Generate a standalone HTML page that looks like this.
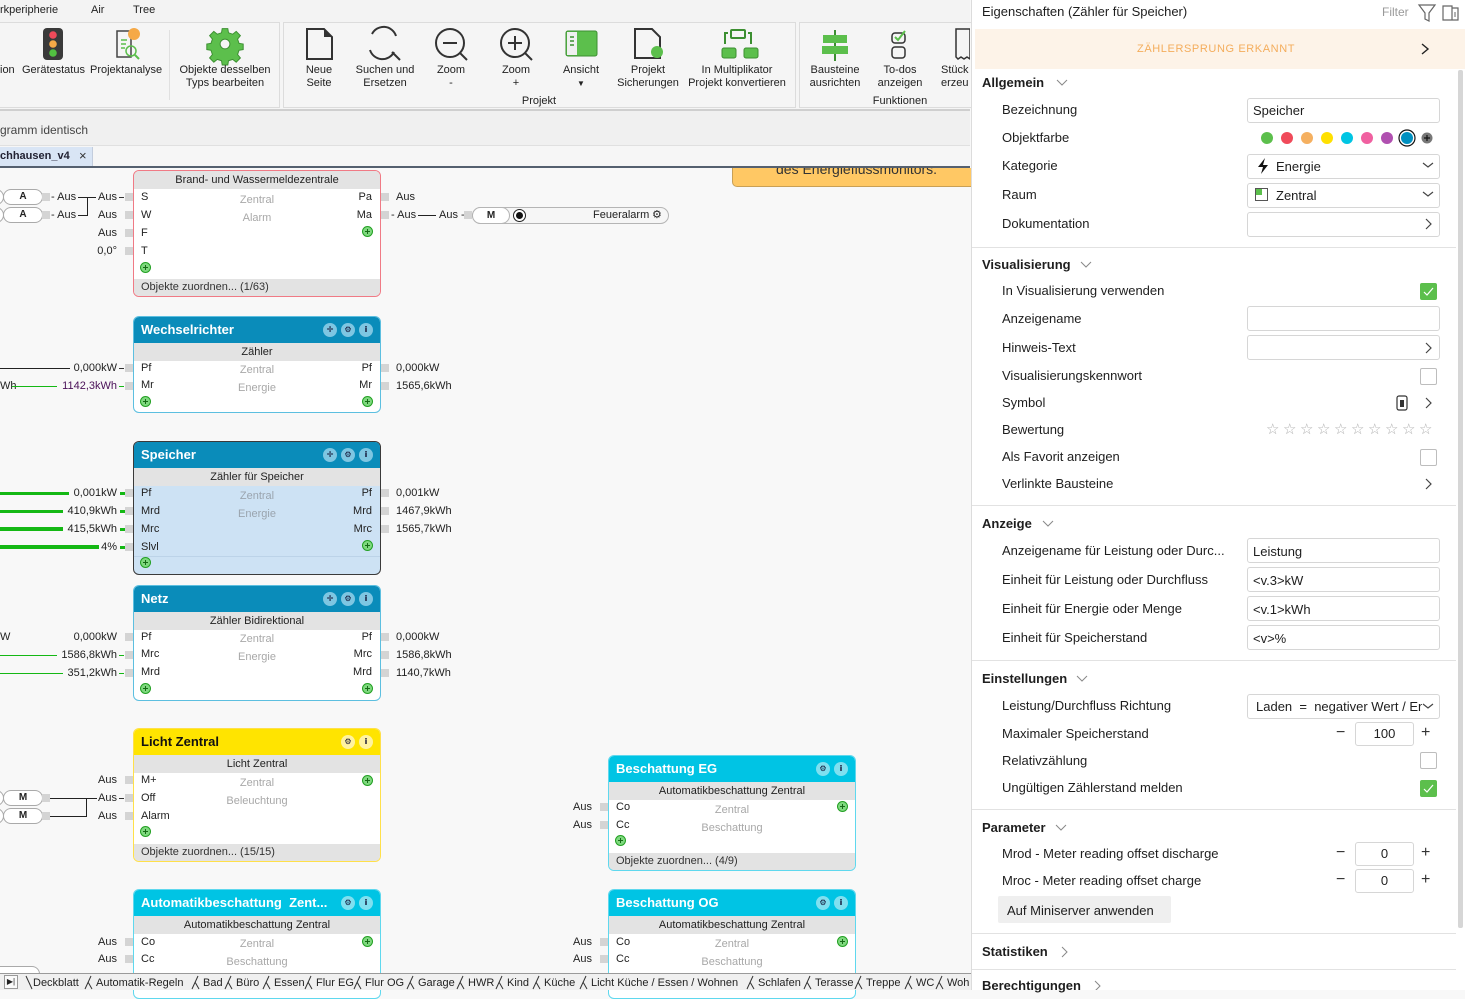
<!DOCTYPE html>
<html><head><meta charset="utf-8">
<style>
*{box-sizing:border-box}
body{margin:0;width:1465px;height:990px;position:relative;overflow:hidden;font-family:"Liberation Sans",sans-serif;background:#f8f8f8;color:#222}
.a{position:absolute;white-space:nowrap}
.s{font-size:11px;line-height:14px}
.blk{position:absolute;width:248px;border:1px solid;border-radius:6px;overflow:hidden;background:#fff}
.hd{position:absolute;left:0;top:0;right:0;height:26px;font-weight:bold;font-size:13px;line-height:26px;padding-left:7px;color:#fff}
.sub{position:absolute;left:0;right:0;height:18px;background:#e3e3e3;font-size:11px;line-height:18px;text-align:center;color:#222}
.ft{position:absolute;left:0;right:0;bottom:0;height:17px;background:#e3e3e3;font-size:11px;line-height:17px;padding-left:7px;color:#333}
.ic{position:absolute;top:6px;width:14px;height:14px;border-radius:50%;font-size:8px;line-height:14px;text-align:center;color:#113;font-weight:bold;font-family:"DejaVu Sans",sans-serif}
.pl{position:absolute;width:11px;height:11px;border-radius:50%;background:#7ed87e;border:1px solid #22a022}
.pl:before{content:"";position:absolute;left:2px;top:4px;width:5px;height:1px;background:#156a15}
.pl:after{content:"";position:absolute;left:4px;top:2px;width:1px;height:5px;background:#156a15}
.sq{position:absolute;width:8px;height:8px;background:#d4d4d4}
.g{color:#a8a8a8;left:0;width:246px;text-align:center}
.ln{position:absolute;background:#222}
.gl{position:absolute;background:#14b814}
.rl{position:absolute;width:117px;text-align:right;left:0}
.dsh{position:absolute;left:119px;width:5px;height:1px;background:#333}
.rp{font-size:13px;line-height:16px;color:#1e1e1e}
.b{font-weight:bold}
.inp{position:absolute;left:1247px;width:193px;height:25px;border:1px solid #d6d6d6;border-radius:3px;background:#fff}
.sep{position:absolute;left:972px;width:484px;height:1px;background:#e2e2e2}
.cb{position:absolute;left:1420px;width:17px;height:17px;border:1px solid #bdbdbd;border-radius:2px;background:#fff}
.cbg{background:#5cbf4c;border-color:#5cbf4c}
.rb{font-size:11px;line-height:13px;text-align:center;color:#222}
</style></head><body>

<!-- top menu -->
<div class="a" style="left:0;top:0;width:970px;height:22px;background:#f3f3f3"></div>
<div class="a s" style="left:0;top:3px">rkperipherie</div>
<div class="a s" style="left:91px;top:3px">Air</div>
<div class="a s" style="left:133px;top:3px">Tree</div>

<!-- ribbon -->
<div class="a" style="left:0;top:22px;width:970px;height:88px;background:#f5f5f5"></div>
<div class="a" style="left:-2px;top:22px;width:282px;height:86px;border:1px solid #dcdcdc"></div>
<div class="a" style="left:283px;top:22px;width:513px;height:86px;border:1px solid #dcdcdc"></div>
<div class="a" style="left:799px;top:22px;width:180px;height:86px;border:1px solid #dcdcdc"></div>
<div class="a" style="left:169px;top:30px;width:1px;height:70px;background:#e0e0e0"></div>
<div class="a" style="left:0;top:109px;width:970px;height:2px;background:#cfcfcf"></div>

<svg class="a" style="left:0;top:0" width="970" height="110">
 <rect x="43" y="28" width="20" height="32" rx="4" fill="#3a3a3a"/>
 <circle cx="53" cy="35" r="3.8" fill="#f04a5a"/><circle cx="53" cy="44" r="3.8" fill="#f5a947"/><circle cx="53" cy="53" r="3.8" fill="#52c041"/>
 <path d="M117 31h14v26h-14z" fill="none" stroke="#444" stroke-width="1.5"/>
 <path d="M121 40h6M121 44h5M121 48h4" stroke="#5cbf4c" stroke-width="1.5"/>
 <circle cx="131" cy="51" r="5" fill="none" stroke="#5cbf4c" stroke-width="1.5"/><path d="M135 55l4 4" stroke="#5cbf4c" stroke-width="2"/>
 <circle cx="134" cy="34" r="6" fill="#f5a947"/>
 <g transform="translate(225 44) scale(0.7)"><path d="M-4-22h8l1 6 6 2 5-4 6 6-4 5 2 6 6 1v8l-6 1-2 6 4 5-6 6-5-4-6 2-1 6h-8l-1-6-6-2-5 4-6-6 4-5-2-6-6-1v-8l6-1 2-6-4-5 6-6 5 4 6-2z" fill="#5cbf4c" stroke="#3c8f31" stroke-width="1.4"/><circle r="7" fill="#f5f5f5" stroke="#3c8f31" stroke-width="1.4"/></g>
 <path d="M307 29h17l8 8v22h-25z" fill="none" stroke="#333" stroke-width="2"/><path d="M324 29v8h8" fill="#333"/>
 <path d="M396 36a13 13 0 0 0-24-2M370 50a13 13 0 0 0 24 2" fill="none" stroke="#333" stroke-width="2"/><path d="M392 52l8 8" stroke="#333" stroke-width="2"/>
 <circle cx="450" cy="43" r="14" fill="none" stroke="#333" stroke-width="2"/><path d="M443 43h14M460 53l7 7" stroke="#333" stroke-width="2"/>
 <circle cx="515" cy="43" r="14" fill="none" stroke="#333" stroke-width="2"/><path d="M508 43h14M515 36v14M525 53l7 7" stroke="#333" stroke-width="2"/>
 <rect x="566" y="31" width="31" height="25" rx="2" fill="#5cbf4c" stroke="#3c8f31"/><rect x="567" y="32" width="10" height="23" fill="#f0f0f0"/>
 <path d="M570 37h4M570 41h4M570 45h4" stroke="#3c8f31" stroke-width="1.5"/>
 <path d="M635 29h17l8 8v21h-25z" fill="none" stroke="#333" stroke-width="2"/><circle cx="657" cy="52" r="6" fill="#5cbf4c"/>
 <rect x="731" y="30" width="14" height="8" rx="1" fill="none" stroke="#3c8f31" stroke-width="2"/>
 <path d="M725 44v-11h3M751 44v-11h-3" fill="none" stroke="#3c8f31" stroke-width="2"/>
 <rect x="722" y="48" width="14" height="10" rx="2" fill="#5cbf4c" stroke="#3c8f31"/><rect x="744" y="48" width="14" height="10" rx="2" fill="#5cbf4c" stroke="#3c8f31"/>
 <path d="M835 30v31" stroke="#3c8f31" stroke-width="2"/><rect x="823" y="35" width="24" height="8" fill="#5cbf4c"/><rect x="822" y="46" width="26" height="8" fill="#5cbf4c"/>
 <rect x="892" y="33" width="13" height="10" rx="3" fill="none" stroke="#333" stroke-width="1.5"/><rect x="892" y="47" width="13" height="11" rx="3" fill="none" stroke="#333" stroke-width="1.5"/>
 <path d="M895 37l3 3 7-9" fill="none" stroke="#5cbf4c" stroke-width="2"/>
 <path d="M956 29h14v30l-3-2-3 2-3-2-3 2-2-2z" fill="none" stroke="#333" stroke-width="1.5"/>
</svg>

<div class="a rb" style="left:0;top:64px">ion</div>
<div class="a rb" style="left:22px;top:64px">Gerätestatus</div>
<div class="a rb" style="left:90px;top:64px">Projektanalyse</div>
<div class="a rb" style="left:165px;top:64px;width:120px">Objekte desselben<br>Typs bearbeiten</div>
<div class="a rb" style="left:299px;top:64px;width:40px">Neue<br>Seite</div>
<div class="a rb" style="left:345px;top:64px;width:80px">Suchen und<br>Ersetzen</div>
<div class="a rb" style="left:421px;top:64px;width:60px">Zoom<br>-</div>
<div class="a rb" style="left:486px;top:64px;width:60px">Zoom<br>+</div>
<div class="a rb" style="left:551px;top:64px;width:60px">Ansicht<br><span style="font-size:8px">▼</span></div>
<div class="a rb" style="left:608px;top:64px;width:80px">Projekt<br>Sicherungen</div>
<div class="a rb" style="left:682px;top:64px;width:110px">In Multiplikator<br>Projekt konvertieren</div>
<div class="a rb" style="left:800px;top:64px;width:70px">Bausteine<br>ausrichten</div>
<div class="a rb" style="left:870px;top:64px;width:60px">To-dos<br>anzeigen</div>
<div class="a rb" style="left:941px;top:64px;text-align:left">Stück<br>erzeu</div>
<div class="a rb" style="left:509px;top:95px;width:60px">Projekt</div>
<div class="a rb" style="left:860px;top:95px;width:80px">Funktionen</div>

<!-- strip -->
<div class="a" style="left:0;top:111px;width:970px;height:34px;background:#f0f0f0"></div>
<div class="a" style="left:0;top:122px;font-size:12px;line-height:16px;color:#444">gramm identisch</div>
<div class="a" style="left:0;top:145px;width:970px;height:1px;background:#e0e0e0"></div>
<div class="a" style="left:0;top:146px;width:970px;height:20px;background:#f6f6f6"></div>
<div class="a" style="left:0;top:147px;width:93px;height:19px;background:#d9e5f5;border-right:1px solid #c3cddd"></div>
<div class="a s b" style="left:0;top:149px;font-size:11px;color:#223">chhausen_v4</div>
<div class="a" style="left:79px;top:148px;font-size:13px;line-height:16px;color:#333">×</div>
<div class="a" style="left:0;top:166px;width:970px;height:2px;background:#55606f"></div>

<!-- note -->
<div class="a" style="left:732px;top:168px;width:240px;height:19px;overflow:hidden;background:#ffc864;border:1px solid #c9a055;border-top:none;border-bottom-left-radius:5px">
 <div class="a" style="left:43px;top:-7px;font-size:14px;line-height:16px;color:#333">des Energieflussmonitors.</div>
</div>

<!-- LEFT WIRING -->
<div class="a" style="left:-12px;top:189px;width:16px;height:16px;border:1px solid #aaa;border-radius:8px;background:#fff"></div>
<div class="a" style="left:-12px;top:207px;width:16px;height:16px;border:1px solid #aaa;border-radius:8px;background:#fff"></div>
<div class="a" style="left:3px;top:189px;width:40px;height:16px;border:1px solid #aaa;border-radius:8px;background:#fff;font-size:10px;line-height:14px;text-align:center;font-weight:bold">A</div>
<div class="a" style="left:3px;top:207px;width:40px;height:16px;border:1px solid #aaa;border-radius:8px;background:#fff;font-size:10px;line-height:14px;text-align:center;font-weight:bold">A</div>
<div class="sq" style="left:42px;top:193px"></div><div class="sq" style="left:42px;top:211px"></div>
<div class="a s" style="left:51px;top:190px">- Aus</div>
<div class="a s" style="left:51px;top:208px">- Aus</div>
<div class="ln" style="left:78px;top:197px;width:18px;height:1px"></div>
<div class="ln" style="left:87px;top:197px;width:1px;height:18px"></div>
<div class="ln" style="left:78px;top:215px;width:10px;height:1px"></div>
<div class="a s rl" style="top:190px">Aus</div><div class="dsh" style="top:197px"></div>
<div class="a s rl" style="top:208px">Aus</div>
<div class="a s rl" style="top:226px">Aus</div>
<div class="a s rl" style="top:244px">0,0°</div>
<div class="sq" style="left:125px;top:193px"></div><div class="sq" style="left:125px;top:211px"></div><div class="sq" style="left:125px;top:229px"></div><div class="sq" style="left:125px;top:247px"></div>

<!-- Wechselrichter wiring -->
<div class="ln" style="left:0;top:368px;width:70px;height:1px"></div>
<div class="a s rl" style="top:361px">0,000kW</div><div class="dsh" style="top:368px"></div>
<div class="a s" style="left:0;top:379px">Wh</div>
<div class="gl" style="left:12px;top:386px;width:45px;height:1px"></div>
<div class="a s rl" style="top:379px;color:#4a1058">1142,3kWh</div><div class="dsh" style="top:386px;background:#14b814"></div>
<div class="sq" style="left:125px;top:364px"></div><div class="sq" style="left:125px;top:382px"></div>
<div class="sq" style="left:381px;top:364px"></div><div class="sq" style="left:381px;top:382px"></div>
<div class="a s" style="left:396px;top:361px">0,000kW</div>
<div class="a s" style="left:396px;top:379px">1565,6kWh</div>

<!-- Speicher wiring -->
<div class="gl" style="left:0;top:492px;width:69px;height:3px"></div>
<div class="gl" style="left:0;top:510px;width:63px;height:3px"></div>
<div class="gl" style="left:0;top:527px;width:63px;height:4px"></div>
<div class="gl" style="left:0;top:545px;width:99px;height:4px"></div>
<div class="a s rl" style="top:486px">0,001kW</div>
<div class="a s rl" style="top:504px">410,9kWh</div>
<div class="a s rl" style="top:522px">415,5kWh</div>
<div class="a s rl" style="top:540px">4%</div>
<div class="gl" style="left:120px;top:492px;width:5px;height:3px"></div>
<div class="gl" style="left:120px;top:510px;width:5px;height:3px"></div>
<div class="gl" style="left:120px;top:528px;width:5px;height:3px"></div>
<div class="gl" style="left:120px;top:546px;width:5px;height:3px"></div>
<div class="sq" style="left:125px;top:489px"></div><div class="sq" style="left:125px;top:507px"></div><div class="sq" style="left:125px;top:525px"></div><div class="sq" style="left:125px;top:543px"></div>
<div class="sq" style="left:381px;top:489px"></div><div class="sq" style="left:381px;top:507px"></div><div class="sq" style="left:381px;top:525px"></div>
<div class="a s" style="left:396px;top:486px">0,001kW</div>
<div class="a s" style="left:396px;top:504px">1467,9kWh</div>
<div class="a s" style="left:396px;top:522px">1565,7kWh</div>

<!-- Netz wiring -->
<div class="a s" style="left:0;top:630px">W</div>
<div class="a s rl" style="top:630px">0,000kW</div>
<div class="gl" style="left:0;top:655px;width:57px;height:1px"></div>
<div class="gl" style="left:0;top:673px;width:63px;height:1px"></div>
<div class="a s rl" style="top:648px">1586,8kWh</div><div class="dsh" style="top:655px;background:#14b814"></div>
<div class="a s rl" style="top:666px">351,2kWh</div><div class="dsh" style="top:673px;background:#14b814"></div>
<div class="sq" style="left:125px;top:633px"></div><div class="sq" style="left:125px;top:651px"></div><div class="sq" style="left:125px;top:669px"></div>
<div class="sq" style="left:381px;top:633px"></div><div class="sq" style="left:381px;top:651px"></div><div class="sq" style="left:381px;top:669px"></div>
<div class="a s" style="left:396px;top:630px">0,000kW</div>
<div class="a s" style="left:396px;top:648px">1586,8kWh</div>
<div class="a s" style="left:396px;top:666px">1140,7kWh</div>

<!-- Licht wiring -->
<div class="a" style="left:-12px;top:790px;width:16px;height:16px;border:1px solid #aaa;border-radius:8px;background:#fff"></div>
<div class="a" style="left:-12px;top:808px;width:16px;height:16px;border:1px solid #aaa;border-radius:8px;background:#fff"></div>
<div class="a" style="left:3px;top:790px;width:40px;height:16px;border:1px solid #aaa;border-radius:8px;background:#fff;font-size:10px;line-height:14px;text-align:center;font-weight:bold">M</div>
<div class="a" style="left:3px;top:808px;width:40px;height:16px;border:1px solid #aaa;border-radius:8px;background:#fff;font-size:10px;line-height:14px;text-align:center;font-weight:bold">M</div>
<div class="sq" style="left:42px;top:794px"></div><div class="sq" style="left:42px;top:812px"></div>
<div class="ln" style="left:50px;top:798px;width:47px;height:1px"></div>
<div class="ln" style="left:50px;top:816px;width:37px;height:1px"></div>
<div class="ln" style="left:86px;top:798px;width:1px;height:18px"></div>
<div class="a s rl" style="top:773px">Aus</div>
<div class="a s rl" style="top:791px">Aus</div><div class="dsh" style="top:798px"></div>
<div class="a s rl" style="top:809px">Aus</div>
<div class="sq" style="left:125px;top:776px"></div><div class="sq" style="left:125px;top:794px"></div><div class="sq" style="left:125px;top:812px"></div>

<!-- Auto wiring -->
<div class="a s rl" style="top:935px">Aus</div>
<div class="a s rl" style="top:952px">Aus</div>
<div class="sq" style="left:125px;top:938px"></div><div class="sq" style="left:125px;top:955px"></div>
<div class="a" style="left:-10px;top:966px;width:50px;height:16px;border:1px solid #aaa;border-radius:8px;background:#fff"></div>

<!-- Brand right wiring -->
<div class="sq" style="left:381px;top:193px"></div><div class="sq" style="left:381px;top:211px"></div>
<div class="a s" style="left:396px;top:190px">Aus</div>
<div class="a s" style="left:391px;top:208px">- Aus</div>
<div class="ln" style="left:418px;top:215px;width:18px;height:1px"></div>
<div class="a s" style="left:439px;top:208px">Aus -</div>
<div class="sq" style="left:464px;top:211px"></div>
<div class="a" style="left:472px;top:207px;width:197px;height:17px;border:1px solid #b5b5b5;border-radius:9px;background:#f6f6f6"></div>
<div class="a" style="left:472px;top:207px;width:38px;height:17px;border:1px solid #b5b5b5;border-radius:9px;background:#fff;font-size:10px;line-height:15px;text-align:center;font-weight:bold">M</div>
<div class="a" style="left:513px;top:209px;width:13px;height:13px;border:1px solid #222;border-radius:50%;background:#fff"></div>
<div class="a" style="left:516px;top:212px;width:7px;height:7px;border-radius:50%;background:#111"></div>
<div class="a s" style="left:593px;top:208px">Feueralarm</div>
<div class="a" style="left:652px;top:207px;font-size:11px;line-height:16px;font-family:'DejaVu Sans',sans-serif">⚙</div>

<!-- Beschattung wiring -->
<div class="a s" style="left:573px;top:800px">Aus</div>
<div class="a s" style="left:573px;top:818px">Aus</div>
<div class="sq" style="left:600px;top:803px"></div><div class="sq" style="left:600px;top:821px"></div>
<div class="a s" style="left:573px;top:935px">Aus</div>
<div class="a s" style="left:573px;top:952px">Aus</div>
<div class="sq" style="left:600px;top:938px"></div><div class="sq" style="left:600px;top:955px"></div>

<!-- BLOCKS -->
<div class="blk" style="left:133px;top:170px;height:127px;border-color:#f07a85">
 <div class="sub" style="top:0">Brand- und Wassermeldezentrale</div>
 <div class="a s" style="left:7px;top:19px">S</div>
 <div class="a s" style="left:7px;top:37px">W</div>
 <div class="a s" style="left:7px;top:55px">F</div>
 <div class="a s" style="left:7px;top:73px">T</div>
 <div class="pl" style="left:6px;top:91px"></div>
 <div class="a s g" style="top:22px">Zentral</div>
 <div class="a s g" style="top:40px">Alarm</div>
 <div class="a s" style="right:8px;top:19px">Pa</div>
 <div class="a s" style="right:8px;top:37px">Ma</div>
 <div class="pl" style="left:228px;top:55px"></div>
 <div class="ft">Objekte zuordnen... (1/63)</div>
</div>

<div class="blk" style="left:133px;top:316px;height:97px;border-color:#5cbfe0">
 <div class="hd" style="background:#0a8cba">Wechselrichter</div>
 <div class="ic" style="left:189px;background:#7ec6e2">✛</div>
 <div class="ic" style="left:207px;background:#7ec6e2">⚙</div>
 <div class="ic" style="left:225px;background:#7ec6e2">i</div>
 <div class="sub" style="top:26px">Zähler</div>
 <div class="a s" style="left:7px;top:44px">Pf</div>
 <div class="a s" style="left:7px;top:61px">Mr</div>
 <div class="pl" style="left:6px;top:79px"></div>
 <div class="a s g" style="top:46px">Zentral</div>
 <div class="a s g" style="top:64px">Energie</div>
 <div class="a s" style="right:8px;top:44px">Pf</div>
 <div class="a s" style="right:8px;top:61px">Mr</div>
 <div class="pl" style="left:228px;top:79px"></div>
</div>

<div class="blk" style="left:133px;top:441px;height:134px;border-color:#3a3a3a;border-width:1.5px;background:#cde2f4">
 <div class="hd" style="background:#0a8cba">Speicher</div>
 <div class="ic" style="left:189px;background:#7ec6e2">✛</div>
 <div class="ic" style="left:207px;background:#7ec6e2">⚙</div>
 <div class="ic" style="left:225px;background:#7ec6e2">i</div>
 <div class="sub" style="top:26px">Zähler für Speicher</div>
 <div class="a s" style="left:7px;top:44px">Pf</div>
 <div class="a s" style="left:7px;top:62px">Mrd</div>
 <div class="a s" style="left:7px;top:80px">Mrc</div>
 <div class="a s" style="left:7px;top:98px">Slvl</div>
 <div class="a" style="left:0;top:114px;width:248px;height:1px;background:#bcd3e8"></div>
 <div class="pl" style="left:6px;top:115px"></div>
 <div class="a s g" style="top:47px;color:#9aa4ae">Zentral</div>
 <div class="a s g" style="top:65px;color:#9aa4ae">Energie</div>
 <div class="a s" style="right:8px;top:44px">Pf</div>
 <div class="a s" style="right:8px;top:62px">Mrd</div>
 <div class="a s" style="right:8px;top:80px">Mrc</div>
 <div class="pl" style="left:228px;top:98px"></div>
</div>

<div class="blk" style="left:133px;top:585px;height:116px;border-color:#5cbfe0">
 <div class="hd" style="background:#0a8cba">Netz</div>
 <div class="ic" style="left:189px;background:#7ec6e2">✛</div>
 <div class="ic" style="left:207px;background:#7ec6e2">⚙</div>
 <div class="ic" style="left:225px;background:#7ec6e2">i</div>
 <div class="sub" style="top:26px">Zähler Bidirektional</div>
 <div class="a s" style="left:7px;top:44px">Pf</div>
 <div class="a s" style="left:7px;top:61px">Mrc</div>
 <div class="a s" style="left:7px;top:79px">Mrd</div>
 <div class="pl" style="left:6px;top:97px"></div>
 <div class="a s g" style="top:46px">Zentral</div>
 <div class="a s g" style="top:64px">Energie</div>
 <div class="a s" style="right:8px;top:44px">Pf</div>
 <div class="a s" style="right:8px;top:61px">Mrc</div>
 <div class="a s" style="right:8px;top:79px">Mrd</div>
 <div class="pl" style="left:228px;top:97px"></div>
</div>

<div class="blk" style="left:133px;top:728px;height:134px;border-color:#ffe04a">
 <div class="hd" style="background:#ffe400;color:#111">Licht Zentral</div>
 <div class="ic" style="left:207px;background:#fff3a0">⚙</div>
 <div class="ic" style="left:225px;background:#fff3a0">i</div>
 <div class="sub" style="top:26px">Licht Zentral</div>
 <div class="a s" style="left:7px;top:44px">M+</div>
 <div class="a s" style="left:7px;top:62px">Off</div>
 <div class="a s" style="left:7px;top:80px">Alarm</div>
 <div class="pl" style="left:6px;top:97px"></div>
 <div class="a s g" style="top:47px">Zentral</div>
 <div class="a s g" style="top:65px">Beleuchtung</div>
 <div class="pl" style="left:228px;top:46px"></div>
 <div class="ft">Objekte zuordnen... (15/15)</div>
</div>

<div class="blk" style="left:133px;top:889px;height:110px;border-color:#5fd8ee">
 <div class="hd" style="background:#00c4e4">Automatikbeschattung&nbsp; Zent...</div>
 <div class="ic" style="left:207px;background:#7fe0f0">⚙</div>
 <div class="ic" style="left:225px;background:#7fe0f0">i</div>
 <div class="sub" style="top:26px">Automatikbeschattung Zentral</div>
 <div class="a s" style="left:7px;top:45px">Co</div>
 <div class="a s" style="left:7px;top:62px">Cc</div>
 <div class="a s g" style="top:47px">Zentral</div>
 <div class="a s g" style="top:65px">Beschattung</div>
 <div class="pl" style="left:228px;top:46px"></div>
</div>

<div class="blk" style="left:608px;top:755px;height:116px;border-color:#5fd8ee">
 <div class="hd" style="background:#00c4e4">Beschattung EG</div>
 <div class="ic" style="left:207px;background:#7fe0f0">⚙</div>
 <div class="ic" style="left:225px;background:#7fe0f0">i</div>
 <div class="sub" style="top:26px">Automatikbeschattung Zentral</div>
 <div class="a s" style="left:7px;top:44px">Co</div>
 <div class="a s" style="left:7px;top:62px">Cc</div>
 <div class="pl" style="left:6px;top:79px"></div>
 <div class="a s g" style="top:47px">Zentral</div>
 <div class="a s g" style="top:65px">Beschattung</div>
 <div class="pl" style="left:228px;top:45px"></div>
 <div class="ft">Objekte zuordnen... (4/9)</div>
</div>

<div class="blk" style="left:608px;top:889px;height:110px;border-color:#5fd8ee">
 <div class="hd" style="background:#00c4e4">Beschattung OG</div>
 <div class="ic" style="left:207px;background:#7fe0f0">⚙</div>
 <div class="ic" style="left:225px;background:#7fe0f0">i</div>
 <div class="sub" style="top:26px">Automatikbeschattung Zentral</div>
 <div class="a s" style="left:7px;top:45px">Co</div>
 <div class="a s" style="left:7px;top:62px">Cc</div>
 <div class="a s g" style="top:47px">Zentral</div>
 <div class="a s g" style="top:65px">Beschattung</div>
 <div class="pl" style="left:228px;top:46px"></div>
</div>

<!-- bottom tabs -->
<div class="a" style="left:0;top:973px;width:972px;height:17px;background:#f0f0f0;border-top:1px solid #9a9a9a"></div>
<div class="a" style="left:4px;top:975px;width:14px;height:14px;border:1px solid #999;background:#fafafa;font-size:8px;line-height:12px;text-align:center">▶|</div>
<svg class="a" style="left:0;top:973px" width="972" height="17">
 <g stroke="#333" stroke-width="1" fill="none">
  <path d="M26 3l6 13"/>
  <path d="M85 16l6-13M88 9l4 7"/>
  <path d="M192 16l6-13M195 9l4 7"/>
  <path d="M225 16l6-13M228 9l4 7"/>
  <path d="M263 16l6-13M266 9l4 7"/>
  <path d="M305 16l6-13M308 9l4 7"/>
  <path d="M354 16l6-13M357 9l4 7"/>
  <path d="M407 16l6-13M410 9l4 7"/>
  <path d="M457 16l6-13M460 9l4 7"/>
  <path d="M496 16l6-13M499 9l4 7"/>
  <path d="M533 16l6-13M536 9l4 7"/>
  <path d="M580 16l6-13M583 9l4 7"/>
  <path d="M747 16l6-13M750 9l4 7"/>
  <path d="M804 16l6-13M807 9l4 7"/>
  <path d="M855 16l6-13M858 9l4 7"/>
  <path d="M905 16l6-13M908 9l4 7"/>
  <path d="M936 16l6-13M939 9l4 7"/>
 </g>
</svg>
<div class="a s" style="left:33px;top:976px">Deckblatt</div>
<div class="a s" style="left:96px;top:976px">Automatik-Regeln</div>
<div class="a s" style="left:203px;top:976px">Bad</div>
<div class="a s" style="left:236px;top:976px">Büro</div>
<div class="a s" style="left:274px;top:976px">Essen</div>
<div class="a s" style="left:316px;top:976px">Flur EG</div>
<div class="a s" style="left:365px;top:976px">Flur OG</div>
<div class="a s" style="left:418px;top:976px">Garage</div>
<div class="a s" style="left:468px;top:976px">HWR</div>
<div class="a s" style="left:507px;top:976px">Kind</div>
<div class="a s" style="left:544px;top:976px">Küche</div>
<div class="a s" style="left:591px;top:976px">Licht Küche / Essen / Wohnen</div>
<div class="a s" style="left:758px;top:976px">Schlafen</div>
<div class="a s" style="left:815px;top:976px">Terasse</div>
<div class="a s" style="left:866px;top:976px">Treppe</div>
<div class="a s" style="left:916px;top:976px">WC</div>
<div class="a s" style="left:947px;top:976px">Woh</div>

<!-- RIGHT PANEL -->
<div class="a" style="left:971px;top:0;width:494px;height:990px;background:#fff;border-left:1px solid #dcdcdc"></div>
<div class="a rp" style="left:982px;top:4px">Eigenschaften (Zähler für Speicher)</div>
<div class="a" style="left:1382px;top:5px;font-size:12px;line-height:14px;color:#999">Filter</div>
<svg class="a" style="left:1416px;top:3px" width="48" height="20">
 <path d="M3 2h16l-6 8v8l-4-2v-6z" fill="none" stroke="#666" stroke-width="1.2"/>
 <path d="M27 3h9v14h-9zM36 5h6v12h-6" fill="none" stroke="#666" stroke-width="1.2"/><path d="M39 9v5" stroke="#666"/>
</svg>
<div class="a" style="left:975px;top:29px;width:490px;height:40px;background:#fdf3e8"></div>
<div class="a" style="left:1137px;top:42px;font-size:11px;line-height:14px;color:#f4ad5c;letter-spacing:0.6px">ZÄHLERSPRUNG ERKANNT</div>
<svg class="a" style="left:1419px;top:42px" width="12" height="14"><path d="M3 2l6 5-6 5" fill="none" stroke="#222" stroke-width="1.4"/></svg>
<div class="a" style="left:1458px;top:70px;width:5px;height:858px;background:#d6d6d6;border-radius:2px"></div>

<div class="a rp b" style="left:982px;top:75px">Allgemein</div>
<div class="a rp" style="left:1002px;top:102px">Bezeichnung</div>
<div class="inp" style="top:98px"></div><div class="a rp" style="left:1253px;top:103px">Speicher</div>
<div class="a rp" style="left:1002px;top:130px">Objektfarbe</div>
<svg class="a" style="left:1258px;top:128px" width="180" height="20">
 <circle cx="9" cy="10" r="6" fill="#5cbf4c"/><circle cx="29" cy="10" r="6" fill="#f04a5a"/><circle cx="49" cy="10" r="6" fill="#f5b060"/><circle cx="69" cy="10" r="6" fill="#ffe000"/>
 <circle cx="89" cy="10" r="6" fill="#00c5e3"/><circle cx="109" cy="10" r="6" fill="#f060a0"/><circle cx="129" cy="10" r="6" fill="#b050b0"/>
 <circle cx="149" cy="10" r="8" fill="none" stroke="#111" stroke-width="1.2"/><circle cx="149" cy="10" r="6" fill="#0090c0"/>
 <circle cx="169" cy="10" r="5.5" fill="#777"/><path d="M166 10h6M169 7v6" stroke="#111" stroke-width="1.2"/>
</svg>
<div class="a rp" style="left:1002px;top:158px">Kategorie</div>
<div class="inp" style="top:154px"></div>
<svg class="a" style="left:1256px;top:157px" width="14" height="18"><path d="M9 1L2 10h5l-2 7 7-9H7z" fill="#111"/></svg>
<div class="a rp" style="left:1276px;top:159px">Energie</div>
<div class="a rp" style="left:1002px;top:187px">Raum</div>
<div class="inp" style="top:183px"></div>
<svg class="a" style="left:1255px;top:188px" width="14" height="14"><rect x="0.5" y="0.5" width="12" height="12" fill="#fff" stroke="#555"/><rect x="1" y="1" width="6" height="6" fill="#5cbf4c"/></svg>
<div class="a rp" style="left:1276px;top:188px">Zentral</div>
<div class="a rp" style="left:1002px;top:216px">Dokumentation</div>
<div class="inp" style="top:212px"></div>
<div class="sep" style="top:247px"></div>

<div class="a rp b" style="left:982px;top:257px">Visualisierung</div>
<div class="a rp" style="left:1002px;top:283px">In Visualisierung verwenden</div>
<div class="cb cbg" style="top:283px"></div>
<svg class="a" style="left:1420px;top:283px" width="17" height="17"><path d="M4 9l3 3 6-7" fill="none" stroke="#fff" stroke-width="1.2"/></svg>
<div class="a rp" style="left:1002px;top:311px">Anzeigename</div>
<div class="inp" style="top:306px"></div>
<div class="a rp" style="left:1002px;top:340px">Hinweis-Text</div>
<div class="inp" style="top:335px"></div>
<div class="a rp" style="left:1002px;top:368px">Visualisierungskennwort</div>
<div class="cb" style="top:368px"></div>
<div class="a rp" style="left:1002px;top:395px">Symbol</div>
<svg class="a" style="left:1395px;top:394px" width="14" height="18"><rect x="2" y="2" width="10" height="14" rx="2" fill="none" stroke="#333" stroke-width="1.2"/><rect x="5" y="6" width="4" height="7" fill="#333"/></svg>
<div class="a rp" style="left:1002px;top:422px">Bewertung</div>
<div class="a" style="left:1266px;top:420px;font-family:'DejaVu Sans',sans-serif;font-size:15px;line-height:18px;color:#b0b0b0">
<span class="a" style="left:0">☆</span><span class="a" style="left:17px">☆</span><span class="a" style="left:34px">☆</span><span class="a" style="left:51px">☆</span><span class="a" style="left:68px">☆</span><span class="a" style="left:85px">☆</span><span class="a" style="left:102px">☆</span><span class="a" style="left:119px">☆</span><span class="a" style="left:136px">☆</span><span class="a" style="left:153px">☆</span>
</div>
<div class="a rp" style="left:1002px;top:449px">Als Favorit anzeigen</div>
<div class="cb" style="top:449px"></div>
<div class="a rp" style="left:1002px;top:476px">Verlinkte Bausteine</div>
<div class="sep" style="top:505px"></div>

<div class="a rp b" style="left:982px;top:516px">Anzeige</div>
<div class="a rp" style="left:1002px;top:543px">Anzeigename für Leistung oder Durc...</div>
<div class="inp" style="top:538px"></div><div class="a rp" style="left:1253px;top:544px">Leistung</div>
<div class="a rp" style="left:1002px;top:572px">Einheit für Leistung oder Durchfluss</div>
<div class="inp" style="top:567px"></div><div class="a rp" style="left:1253px;top:573px">&lt;v.3&gt;kW</div>
<div class="a rp" style="left:1002px;top:601px">Einheit für Energie oder Menge</div>
<div class="inp" style="top:596px"></div><div class="a rp" style="left:1253px;top:602px">&lt;v.1&gt;kWh</div>
<div class="a rp" style="left:1002px;top:630px">Einheit für Speicherstand</div>
<div class="inp" style="top:625px"></div><div class="a rp" style="left:1253px;top:631px">&lt;v&gt;%</div>
<div class="sep" style="top:660px"></div>

<div class="a rp b" style="left:982px;top:671px">Einstellungen</div>
<div class="a rp" style="left:1002px;top:698px">Leistung/Durchfluss Richtung</div>
<div class="inp" style="top:694px"></div>
<div class="a rp" style="left:1256px;top:699px;width:166px;overflow:hidden">Laden&nbsp; =&nbsp; negativer Wert / Entladen</div>
<div class="a rp" style="left:1002px;top:726px">Maximaler Speicherstand</div>
<div class="a" style="left:1336px;top:724px;font-size:16px;line-height:18px;color:#333">−</div>
<div class="a" style="left:1355px;top:722px;width:59px;height:24px;border:1px solid #d6d6d6;border-radius:3px;font-size:13px;line-height:22px;text-align:center">100</div>
<div class="a" style="left:1421px;top:724px;font-size:16px;line-height:18px;color:#333">+</div>
<div class="a rp" style="left:1002px;top:753px">Relativzählung</div>
<div class="cb" style="top:752px"></div>
<div class="a rp" style="left:1002px;top:780px">Ungültigen Zählerstand melden</div>
<div class="cb cbg" style="top:780px"></div>
<svg class="a" style="left:1420px;top:780px" width="17" height="17"><path d="M4 9l3 3 6-7" fill="none" stroke="#fff" stroke-width="1.2"/></svg>
<div class="sep" style="top:809px"></div>

<div class="a rp b" style="left:982px;top:820px">Parameter</div>
<div class="a rp" style="left:1002px;top:846px">Mrod - Meter reading offset discharge</div>
<div class="a" style="left:1336px;top:844px;font-size:16px;line-height:18px;color:#333">−</div>
<div class="a" style="left:1355px;top:842px;width:59px;height:24px;border:1px solid #d6d6d6;border-radius:3px;font-size:13px;line-height:22px;text-align:center">0</div>
<div class="a" style="left:1421px;top:844px;font-size:16px;line-height:18px;color:#333">+</div>
<div class="a rp" style="left:1002px;top:873px">Mroc - Meter reading offset charge</div>
<div class="a" style="left:1336px;top:871px;font-size:16px;line-height:18px;color:#333">−</div>
<div class="a" style="left:1355px;top:869px;width:59px;height:24px;border:1px solid #d6d6d6;border-radius:3px;font-size:13px;line-height:22px;text-align:center">0</div>
<div class="a" style="left:1421px;top:871px;font-size:16px;line-height:18px;color:#333">+</div>
<div class="a" style="left:998px;top:896px;width:173px;height:27px;background:#efefef;border-radius:2px"></div>
<div class="a rp" style="left:1007px;top:903px">Auf Miniserver anwenden</div>
<div class="sep" style="top:933px"></div>
<div class="a rp b" style="left:982px;top:944px">Statistiken</div>
<div class="sep" style="top:969px"></div>
<div class="a rp b" style="left:982px;top:978px">Berechtigungen</div>

<!-- chevrons (on top of inputs) -->
<svg class="a" style="left:972px;top:0" width="490" height="990">
 <g fill="none" stroke="#888" stroke-width="1">
  <path d="M85 80l5 5 5-5"/>
  <path d="M109 262l5 5 5-5"/>
  <path d="M71 521l5 5 5-5"/>
  <path d="M105 676l5 5 5-5"/>
  <path d="M84 825l5 5 5-5"/>
  <path d="M90 947l5 5-5 5"/>
  <path d="M123 981l5 5-5 5"/>
 </g>
 <g fill="none" stroke="#444" stroke-width="1.2">
  <path d="M451 163l5 4 5-4"/>
  <path d="M451 192l5 4 5-4"/>
  <path d="M454 219l5 5-5 5"/>
  <path d="M454 343l5 5-5 5"/>
  <path d="M454 398l5 5-5 5"/>
  <path d="M454 479l5 5-5 5"/>
  <path d="M451 704l5 4 5-4"/>
 </g>
</svg>

</body></html>
